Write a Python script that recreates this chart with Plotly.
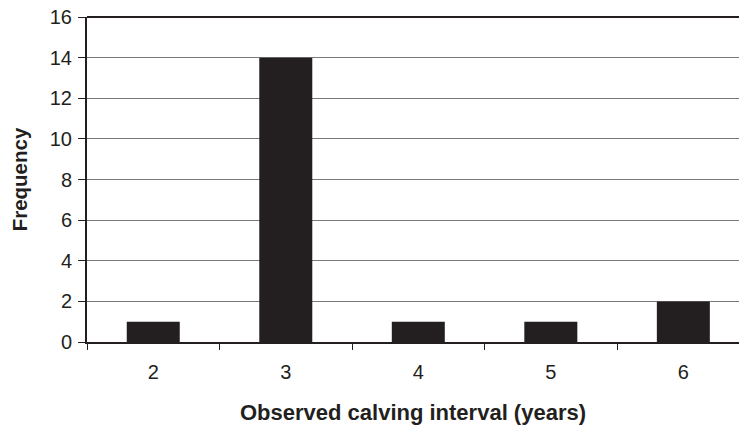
import plotly.graph_objects as go

categories = ["2", "3", "4", "5", "6"]
frequency = [1, 14, 1, 1, 2]
y_ticks = [0, 2, 4, 6, 8, 10, 12, 14, 16]

fig = go.Figure()
fig.add_trace(go.Bar(
    x=categories, y=frequency,
    marker=dict(color="#231f20", line=dict(width=0)),
    width=0.4,
))

font = dict(family="Liberation Sans, Arial, sans-serif", size=20, color="#231f20")

fig.update_layout(
    width=739, height=426,
    margin=dict(l=87, r=0, t=17, b=84),
    paper_bgcolor="white", plot_bgcolor="white",
    showlegend=False,
    font=font,
    xaxis=dict(
        type="category",
        range=[-0.5, 4.42],
        tickson="boundaries",
        ticks="outside", ticklen=6, tickcolor="#231f20", tickwidth=1,
        showline=True, linecolor="#231f20", linewidth=2,
        showgrid=False,
        ticklabelstandoff=11,
        title=dict(text="<b>Observed calving interval (years)</b>",
                   font=dict(size=22), standoff=23),
    ),
    yaxis=dict(
        range=[0, 16],
        tickvals=y_ticks,
        ticks="outside", ticklen=7, tickcolor="#231f20", tickwidth=1,
        showline=True, linecolor="#231f20", linewidth=2,
        showgrid=True, gridcolor="#7a7a7a", gridwidth=1,
        zeroline=False,
        ticklabelstandoff=2,
        title=dict(text="<b>Frequency</b>", font=dict(size=20.5), standoff=17),
    ),
)

fig.add_shape(type="line", xref="paper", yref="paper", x0=0, x1=1, y0=1, y1=1,
              line=dict(color="#231f20", width=2))

fig.write_html("out.html",
               config={"displayModeBar": False},
               post_script="document.body.style.margin='0';document.body.style.overflow='hidden';")
